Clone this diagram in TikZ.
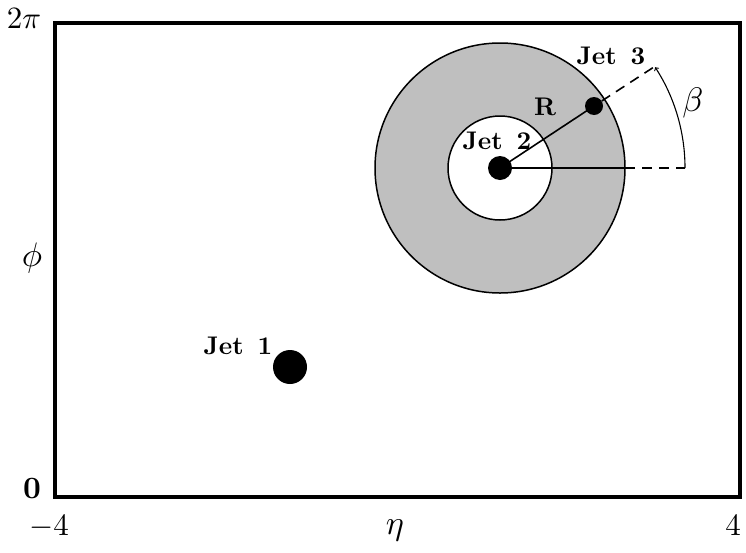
\documentclass[tikz,border=0pt]{standalone}
\begin{document}
\begin{tikzpicture}[x=1pt,y=-1pt,
  lbl/.style={inner sep=0pt,scale=3.1},
  glbl/.style={inner sep=0pt,scale=3.4},
  jetlbl/.style={inner sep=0pt,scale=2.55,font=\bfseries},
  dot/.style={circle,fill=black,inner sep=0pt},
  thinln/.style={line width=1.6pt},
  dashln/.style={line width=1.6pt,dash pattern=on 10pt off 7pt}]
\useasboundingbox (0,0) rectangle (746,552);
% annulus
\fill[black!25] (500,168) circle (125pt);
\draw[line width=1.5pt] (500,168) circle (125pt);
\fill[white] (500,168) circle (52pt);
\draw[line width=1.5pt] (500,168) circle (52pt);
% frame
\draw[line width=3.5pt] (55,23) rectangle (740,497);
% points
\node[dot,minimum size=24pt] (j2) at (500,168) {};
\node[dot,minimum size=18pt] (j3) at (594,106) {};
\node[dot,minimum size=34pt] (j1) at (290,367) {};
\coordinate (hx) at (625,168);
\coordinate (hend) at (685,168);
\coordinate (rend) at (657,65);
% lines
\draw[thinln] (j2.center) -- (j3.center);
\draw[dashln] (j3) -- (rend);
\draw[thinln] (j2.center) -- (hx);
\draw[dashln] (hx) -- (hend);
\draw[line width=1.1pt,->] (hend) arc[start angle=0,end angle=33,radius=185pt];
% labels
\node[jetlbl] (l1) at (238,346) {Jet\hskip0.55em 1};
\node[jetlbl] (l2) at (497,141) {Jet\hskip0.55em 2};
\node[jetlbl] (l3) at (611,56) {Jet\hskip0.55em 3};
\node[jetlbl] (lr) at (545,107) {R};
\node[glbl] (lb) at (693,103) {$\beta$};
\node[lbl] (l2pi) at (24,19) {$2\pi$};
\node[glbl] (lphi) at (32,258) {$\phi$};
\node[lbl] (l0) at (32,489) {$\mathbf{0}$};
\node[lbl] (lm4) at (49,527) {$-4$};
\node[glbl] (leta) at (395,530) {$\eta$};
\node[lbl] (l4) at (733,526) {$4$};
\end{tikzpicture}
\end{document}
